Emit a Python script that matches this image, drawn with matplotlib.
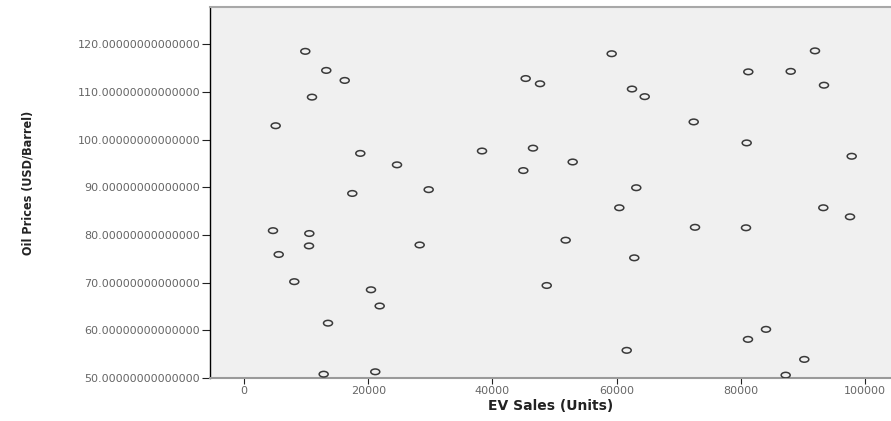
import numpy as np
import matplotlib
matplotlib.use("Agg")
import matplotlib.pyplot as plt
from matplotlib.path import Path
from matplotlib.transforms import Affine2D
from matplotlib.ticker import FuncFormatter

# EV sales (units) vs oil price (USD/barrel)
ev_sales = [9870, 13250, 16220, 10950, 5100, 18730, 24640, 17440, 29740,
            45360, 47670, 38330, 46540, 44980,
            59210, 62480, 64530, 81210, 88040, 91950, 93400, 72420, 80950,
            97860, 52930, 63170, 60440, 93290, 97590,
            4670, 5590, 10520, 10470, 8100, 28290, 20450, 21850, 13530,
            12830, 21140, 48750,
            72630, 80840, 51800, 62850, 84060, 81160, 61630, 90230, 87230]
oil_price = [118.5, 114.5, 112.4, 108.9, 102.9, 97.1, 94.7, 88.7, 89.5,
             112.8, 111.7, 97.6, 98.2, 93.5,
             118.0, 110.6, 109.0, 114.2, 114.3, 118.6, 111.4, 103.7, 99.3,
             96.5, 95.3, 89.9, 85.7, 85.7, 83.8,
             80.9, 75.9, 80.3, 77.7, 70.2, 77.9, 68.5, 65.1, 61.5,
             50.8, 51.3, 69.4,
             81.6, 81.5, 78.9, 75.2, 60.2, 58.1, 55.8, 53.9, 50.6]
x_ticks = [0, 20000, 40000, 60000, 80000, 100000]
y_ticks = [50, 60, 70, 80, 90, 100, 110, 120]

fig = plt.figure(figsize=(8.91, 4.21), dpi=100)
ax = fig.add_axes([210 / 891, 43 / 421, 1 - 210 / 891, 371 / 421])
ax.set_facecolor("#f0f0f0")

# flattened hollow circle, like the squashed SPSS marker
oval = Path.unit_circle().transformed(Affine2D().scale(1.6, 1.0))
ax.scatter(ev_sales, oil_price, marker=oval, s=42, facecolors="none",
           edgecolors="#3a3a3a", linewidths=1.1, zorder=3)

ax.set_xlim(-5475, 104190)
ax.set_ylim(50, 127.8)
ax.set_xticks(x_ticks)
ax.set_yticks(y_ticks)
ax.yaxis.set_major_formatter(FuncFormatter(lambda v, p: "%.14f" % v))

ax.tick_params(axis="both", direction="out", labelsize=8, colors="#222",
               labelcolor="#666")
ax.tick_params(axis="y", length=6, pad=1)
ax.tick_params(axis="x", length=4, pad=2)

ax.spines["left"].set_color("black")
ax.spines["left"].set_linewidth(1.0)
ax.spines["bottom"].set_color("#9a9a9a")
ax.spines["bottom"].set_linewidth(1.5)
ax.spines["top"].set_color("#a8a8a8")
ax.spines["top"].set_linewidth(1.5)
ax.spines["right"].set_visible(False)

ax.set_xlabel("EV Sales (Units)", fontsize=10, fontweight="bold",
              color="#222", labelpad=2)
ax.set_ylabel("Oil Prices (USD/Barrel)", fontsize=9, fontweight="bold",
              fontstretch="condensed", color="#222",
              family=["Liberation Sans Narrow", "DejaVu Sans"])
ax.yaxis.set_label_coords(-0.258, 0.526)

fig.savefig("out.png", dpi=100)
